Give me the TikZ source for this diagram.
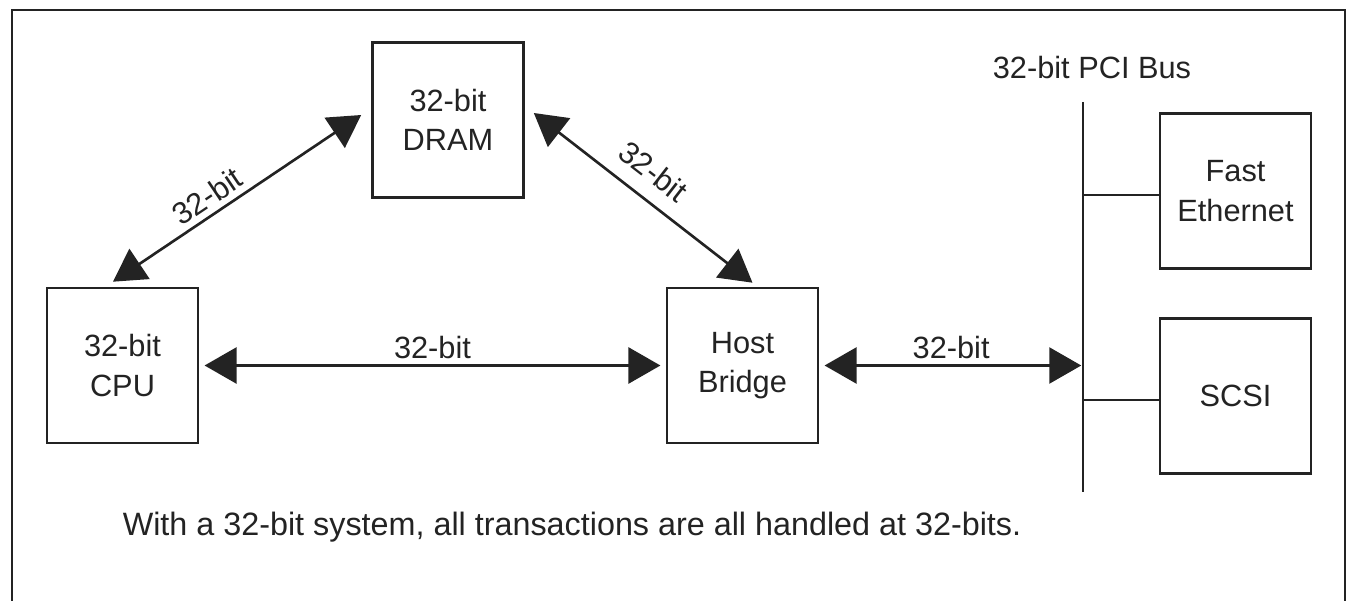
\documentclass[tikz,border=0pt]{standalone}
\usepackage{fontspec}
\setmainfont{Liberation Sans}
\definecolor{LineColor}{RGB}{35,35,35}
\usepackage{tikz}
\usetikzlibrary{arrows.meta}
\usetikzlibrary{positioning}
\usetikzlibrary{calc}
\tikzstyle{block} = [draw=LineColor, line width=1.5pt, minimum width=3.02cm, minimum height=3.1cm, align=center, inner sep=0pt, text=LineColor]
\tikzstyle{biarrow} = [line width=1.5pt, LineColor, {Triangle[length=0.64cm,width=0.72cm]}-{Triangle[length=0.64cm,width=0.72cm]}]
\tikzstyle{buswire} = [line width=1.5pt, LineColor]

\begin{document}
\begin{tikzpicture}[x=0.02cm, y=-0.02cm, font=\fontsize{17.5pt}{22.5pt}\selectfont]
    \useasboundingbox (0,0) rectangle (1348,601);
    % frame, open at the bottom
    \draw[LineColor, line width=1.6pt] (12,601) -- (12,10) -- (1345,10) -- (1345,601);

    \node[block] (dram) at (448,120) {32-bit\\DRAM};
    \node[block] (cpu) at (122.5,365.5) {32-bit\\CPU};
    \node[block] (host) at (742.5,365.5) {Host\\Bridge};
    \node[block] (fast) at (1235.5,191) {Fast\\Ethernet};
    \node[block] (scsi) at (1235.5,396) {SCSI};

    % PCI bus
    \coordinate (bustop) at (1083,102);
    \coordinate (busbot) at (1083,492);
    \coordinate (busin) at (host.east -| bustop);
    \node[text=LineColor] (buslabel) at (1092,68) {32-bit PCI Bus};
    \draw[buswire] (bustop) -- (busbot);
    \draw[buswire] ([yshift=-2.3pt]fast.west) -- ([yshift=-2.3pt]fast.west -| bustop);
    \draw[buswire] ([yshift=-2.3pt]scsi.west) -- ([yshift=-2.3pt]scsi.west -| bustop);

    % 32-bit links
    \draw[biarrow] ([shift={(-9.5,-5)}]cpu.north) -- node[above, sloped, pos=0.42] {32-bit} ([shift={(-10,-5)}]dram.west);
    \draw[biarrow] ([shift={(9,-7)}]dram.east) -- node[above=5pt, sloped, pos=0.47] {32-bit} ([shift={(10,-4)}]host.north);
    \draw[biarrow, shorten <=3pt, shorten >=3pt] (cpu) -- node[above] {32-bit} (host);
    \draw[biarrow, shorten <=3pt, shorten >=1pt] (host) -- node[above] {32-bit} (busin);

    \node[text=LineColor, font=\fontsize{18.4pt}{22pt}\selectfont] (caption) at (572,527) {With a 32-bit system, all transactions are all handled at 32-bits.};
\end{tikzpicture}
\end{document}
